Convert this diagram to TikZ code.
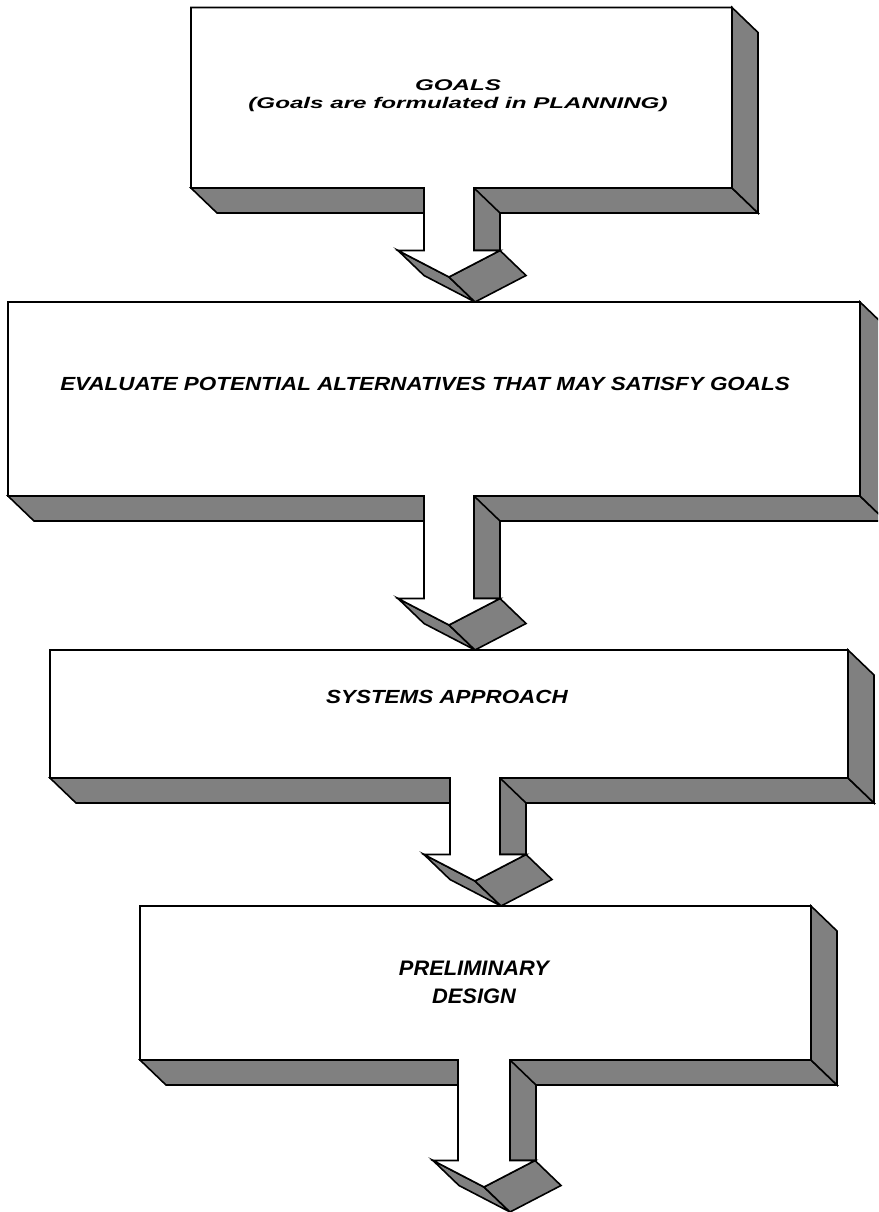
\documentclass[tikz,border=0pt]{standalone}
\usepackage{fontspec}
\newfontfamily\goalsfont[FakeStretch=1.56]{Liberation Sans}
\newfontfamily\evalfont[FakeStretch=1.18]{Liberation Sans}
\newfontfamily\prelfont[FakeStretch=1.04]{Liberation Sans}
\usetikzlibrary{calc}
\definecolor{shade}{HTML}{808080}
\def\dx{26}
\def\dy{25}

% box with its extruded arrow: source, target, stem centre, stem half width
\newcommand{\slab}[4]{%
  \pgfmathsetmacro\stemL{#3-#4}
  \pgfmathsetmacro\stemR{#3+#4}
  \coordinate (tip) at ($(#3,0 |- #2)+(0,-\dy)$);
  \coordinate (hl) at ($(tip)+(-51,-26.5)$);
  \coordinate (hr) at ($(tip)+(51,-26.5)$);
  \coordinate (tl) at (\stemL,0 |- #1.south);
  \coordinate (tr) at (\stemR,0 |- #1.south);
  \coordinate (bl) at (tl |- hl);
  \coordinate (br) at (tr |- hl);
  \draw[side] (#1.south west) -- ++(\dx,\dy) -- ($(#1.south east)+(\dx,\dy)$) -- (#1.south east) -- cycle;
  \draw[side] (#1.north east) -- ++(\dx,\dy) -- ($(#1.south east)+(\dx,\dy)$) -- (#1.south east) -- cycle;
  \draw[side] (tr) -- ++(\dx,\dy) -- ($(br)+(\dx,0)$) -- (br) -- cycle;
  \draw[side] (hl) -- (tip) -- ++(\dx,\dy) -- ($(hl)+(\dx,\dy)$) -- cycle;
  \draw[side] (tip) -- (hr) -- ++(\dx,\dy) -- ($(tip)+(\dx,\dy)$) -- cycle;
  \draw[face] (#1.north west) -- (#1.north east) -- (#1.south east) -- (tr) -- (br)
    -- (hr) -- (tip) -- (hl) -- (bl) -- (tl) -- (#1.south west) -- cycle;
}

\begin{document}
\begin{tikzpicture}[x=1pt,y=-1pt,
  panel/.style={rectangle,inner sep=0pt,outer sep=0pt},
  face/.style={draw,fill=white,line width=1.6pt},
  side/.style={draw,fill=shade,line width=1.6pt},
  caption/.style={align=center,inner sep=0pt}]

\useasboundingbox (0,0) rectangle (878,1212);
\clip (0,0) rectangle (878,1212);

\node[panel,minimum width=541pt,minimum height=180.5pt](goals) at (461.5,97.75){};
\node[panel,minimum width=852pt,minimum height=194pt](evaluate) at (434,399){};
\node[panel,minimum width=798pt,minimum height=128pt](systems) at (449,714){};
\node[panel,minimum width=671pt,minimum height=154pt](design) at (475.5,983){};
\coordinate (out) at (484,1212);

\slab{goals}{evaluate.north}{449}{25}
\slab{evaluate}{systems.north}{449}{25}
\slab{systems}{design.north}{475}{25}
\slab{design}{out}{484}{26}

\node[caption,font=\goalsfont\bfseries\itshape\fontsize{15.5}{17.5}\selectfont](goalstxt)
  at ($(goals.center)+(-3.5,-2)$){GOALS\\(Goals are formulated in PLANNING)};
\node[caption,font=\evalfont\bfseries\itshape\fontsize{19}{22}\selectfont](evaluatetxt)
  at ($(evaluate.center)+(-9,-15)$){EVALUATE POTENTIAL ALTERNATIVES THAT MAY SATISFY GOALS};
\node[caption,font=\evalfont\bfseries\itshape\fontsize{19}{22}\selectfont](systemstxt)
  at ($(systems.center)+(-2,-17)$){SYSTEMS APPROACH};
\node[caption,font=\prelfont\bfseries\itshape\fontsize{21}{28}\selectfont](designtxt)
  at ($(design.center)+(-1.5,-1)$){PRELIMINARY\\DESIGN};

\end{tikzpicture}
\end{document}
